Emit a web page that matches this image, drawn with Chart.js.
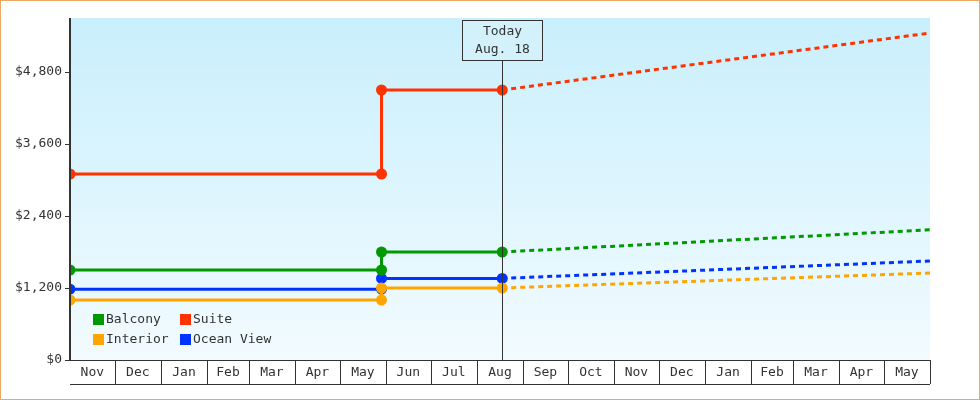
<!DOCTYPE html>
<html>
<head>
<meta charset="utf-8">
<script src="https://cdn.jsdelivr.net/npm/chart.js@4"></script>
<style>
  body { margin: 0; background: #fff; }
  #wrap { width: 980px; height: 400px; position: relative; }
</style>
</head>
<body>
<div id="wrap"><canvas id="price-chart"></canvas></div>
<script>
// months shown on the axis and their lengths in days (axis starts Nov 1)
const months = ["Nov", "Dec", "Jan", "Feb", "Mar", "Apr", "May", "Jun", "Jul", "Aug",
  "Sep", "Oct", "Nov", "Dec", "Jan", "Feb", "Mar", "Apr", "May"];
const monthDays = [30, 31, 31, 28, 31, 30, 31, 30, 31, 31, 30, 31, 30, 31, 31, 28, 31, 30, 31];

// day offsets: start, price change (May 29), today (Aug 18), end of forecast
const dayStart = 0, dayChange = 209, dayToday = 290, dayEnd = 577;
const todayLabel = ["Today", "Aug. 18"];

const seriesNames = ["Balcony", "Suite", "Interior", "Ocean View"];
const seriesColors = ["#009900", "#ff3300", "#ffa500", "#0033ff"];
const oldPrice = [1500, 3100, 1000, 1180];
const newPrice = [1800, 4500, 1200, 1360];
const forecastEnd = [2170, 5450, 1450, 1650];

const yTicks = [0, 1200, 2400, 3600, 4800];
const font = "'DejaVu Sans Mono', monospace";

const datasets = [];
seriesNames.forEach(function (name, i) {
  datasets.push({
    label: name,
    data: [
      { x: dayStart, y: oldPrice[i] },
      { x: dayChange, y: oldPrice[i] },
      { x: dayChange, y: newPrice[i] },
      { x: dayToday, y: newPrice[i] },
    ],
    borderColor: seriesColors[i],
    backgroundColor: seriesColors[i],
    borderWidth: 3,
    pointRadius: [4, 4, 4, 4],
  });
});
seriesNames.forEach(function (name, i) {
  datasets.push({
    label: name + " forecast",
    forecast: true,
    data: [
      { x: dayToday, y: newPrice[i] },
      { x: dayEnd, y: forecastEnd[i] },
    ],
    borderColor: seriesColors[i],
    borderWidth: 3,
    borderDash: [5, 4],
    pointRadius: 0,
  });
});

const decor = {
  id: "decor",
  beforeDraw: function (chart) {
    const c = chart.ctx, a = chart.chartArea;
    const g = c.createLinearGradient(0, a.top, 0, a.bottom);
    g.addColorStop(0, "#c9effc");
    g.addColorStop(1, "#f2fbff");
    c.save();
    c.fillStyle = g;
    c.fillRect(a.left, a.top, a.right - a.left, a.bottom - a.top);
    c.restore();
  },
  afterDatasetsDraw: function (chart) {
    const c = chart.ctx, a = chart.chartArea, xs = chart.scales.x;
    c.save();
    c.strokeStyle = "#333";
    c.lineWidth = 1;
    // today line
    const tx = Math.round(xs.getPixelForValue(dayToday)) + 0.5;
    c.beginPath(); c.moveTo(tx, 60); c.lineTo(tx, a.bottom); c.stroke();
    // today box
    c.fillStyle = "#d2f1fb";
    c.fillRect(tx - 40, 20, 80, 40);
    c.strokeRect(tx - 40, 20.5, 80, 40);
    c.fillStyle = "#333";
    c.font = "13px " + font;
    c.textAlign = "center";
    c.textBaseline = "middle";
    c.fillText(todayLabel[0], tx, 32);
    c.fillText(todayLabel[1], tx, 50);
    // y axis line
    c.lineWidth = 2;
    c.beginPath(); c.moveTo(a.left, a.top); c.lineTo(a.left, a.bottom); c.stroke();
    // month cells
    c.lineWidth = 1;
    c.beginPath(); c.moveTo(a.left, a.bottom + 0.5); c.lineTo(a.right, a.bottom + 0.5);
    c.moveTo(a.left, a.bottom + 24.5); c.lineTo(a.right, a.bottom + 24.5); c.stroke();
    let d = 0;
    months.forEach(function (m, i) {
      const x0 = xs.getPixelForValue(d);
      d += monthDays[i];
      const x1 = xs.getPixelForValue(d);
      c.beginPath();
      c.moveTo(Math.round(x1) + 0.5, a.bottom); c.lineTo(Math.round(x1) + 0.5, a.bottom + 24);
      c.stroke();
      c.fillText(m, (x0 + x1) / 2, a.bottom + 13);
    });
    // legend
    c.textAlign = "left";
    const cols = [93, 180];
    seriesNames.forEach(function (name, i) {
      const lx = cols[i % 2], ly = 320 + Math.floor(i / 2) * 20;
      c.fillStyle = seriesColors[i];
      c.fillRect(lx, ly - 6, 11, 11);
      c.fillStyle = "#333";
      c.fillText(name, lx + 13, ly);
    });
    c.restore();
    // outer border
    c.save();
    c.strokeStyle = "#f0a860";
    c.strokeRect(0.5, 0.5, chart.width - 1, chart.height - 1);
    c.restore();
  },
};

new Chart(document.getElementById("price-chart"), {
  type: "line",
  data: { datasets: datasets },
  options: {
    responsive: true,
    maintainAspectRatio: false,
    animation: false,
    layout: { padding: { top: 18, right: 50, bottom: 40 } },
    plugins: { legend: { display: false }, tooltip: { enabled: false } },
    scales: {
      x: { type: "linear", min: dayStart, max: dayEnd, display: false },
      y: {
        min: 0,
        max: 5700,
        afterFit: function (s) { s.width = 70; },
        afterBuildTicks: function (s) { s.ticks = yTicks.map(function (v) { return { value: v }; }); },
        grid: { display: true, drawOnChartArea: false, tickLength: 5, color: "#333" },
        border: { display: false },
        ticks: {
          color: "#333",
          font: { family: font, size: 13 },
          padding: 3,
          callback: function (v) { return "$" + v.toLocaleString("en-US"); },
        },
      },
    },
  },
  plugins: [decor],
});
</script>
</body>
</html>
